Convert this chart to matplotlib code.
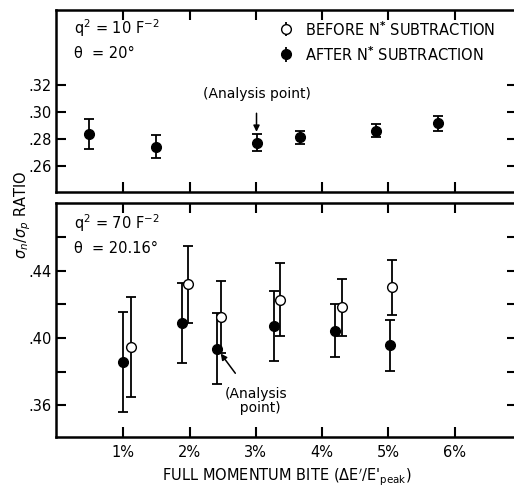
import matplotlib
matplotlib.use("Agg")
import matplotlib.pyplot as plt

plt.rcParams.update({
    "font.family": "DejaVu Sans",
    "font.size": 10,
    "mathtext.fontset": "dejavusans",
    "axes.linewidth": 1.8,
})

# ---------------------------------------------------------------------------
# Data
# ---------------------------------------------------------------------------
# top panel: q^2 = 10 F^-2, theta = 20 deg (after N* subtraction only)
x_top = [0.49, 1.49, 3.01, 3.67, 4.81, 5.75]
y_top = [0.2835, 0.2743, 0.2773, 0.2812, 0.2862, 0.2916]
e_top = [0.011, 0.0083, 0.0065, 0.005, 0.0048, 0.0054]

# bottom panel: q^2 = 70 F^-2, theta = 20.16 deg
x_after = [1.00, 1.88, 2.41, 3.27, 4.20, 5.03]
y_after = [0.3857, 0.4088, 0.3937, 0.4072, 0.4044, 0.3956]
e_after = [0.030, 0.024, 0.021, 0.021, 0.016, 0.015]

x_before = [1.12, 1.97, 2.47, 3.36, 4.30, 5.06]
y_before = [0.3946, 0.4319, 0.4124, 0.4229, 0.4183, 0.4303]
e_before = [0.030, 0.023, 0.0215, 0.0216, 0.017, 0.0164]

x_ticks = [1, 2, 3, 4, 5, 6]
x_ticklabels = ["1%", "2%", "3%", "4%", "5%", "6%"]
y_ticks_top = [0.26, 0.28, 0.30, 0.32]
y_ticks_bot = [0.36, 0.38, 0.40, 0.42, 0.44, 0.46]
y_ticklabels_bot = [".36", "", ".40", "", ".44", ""]

W, H = 514, 487
fig = plt.figure(figsize=(W / 100, H / 100), dpi=100)


def ax_rect(x0, y0, x1, y1):
    return [x0 / W, 1 - y1 / H, (x1 - x0) / W, (y1 - y0) / H]


ax1 = fig.add_axes(ax_rect(56, 10, 517, 192))
ax2 = fig.add_axes(ax_rect(56, 203, 517, 437))

err_kw = dict(fmt="o", color="black", ms=7, elinewidth=1.3, capsize=3.5,
              capthick=1.3)

for ax in (ax1, ax2):
    ax.set_xlim(-0.015, 6.94)
    ax.set_xticks(x_ticks)
    ax.tick_params(axis="both", direction="in", length=7, width=1.5,
                   top=True, right=True, labelsize=10.5)
    ax.tick_params(axis="y", pad=3)

# --- top panel ---
ax1.errorbar(x_top, y_top, yerr=e_top, mfc="black", **err_kw)
ax1.set_ylim(0.2407, 0.3756)
ax1.set_yticks(y_ticks_top)
ax1.set_yticklabels([".26", ".28", ".30", ".32"])
ax1.set_xticklabels([])
ax1.text(0.04, 0.90, r"q$^2$ = 10 F$^{-2}$", transform=ax1.transAxes,
         fontsize=10.5, va="center")
ax1.text(0.04, 0.76, "θ  = 20°", transform=ax1.transAxes,
         fontsize=10.5, va="center")
ax1.annotate("(Analysis point)", xy=(x_top[2], y_top[2] + e_top[2] + 0.0015),
             xytext=(x_top[2], 0.3135), ha="center", va="center", fontsize=10,
             arrowprops=dict(arrowstyle="-|>", color="black", lw=1.1,
                             mutation_scale=9, shrinkA=7, shrinkB=0))

# legend
h_before = ax1.errorbar([], [], yerr=[], mfc="white", **err_kw)
h_after = ax1.errorbar([], [], yerr=[], mfc="black", **err_kw)
ax1.legend([h_before, h_after],
           [r"BEFORE N$^{\mathbf{*}}$ SUBTRACTION", r"AFTER N$^{\mathbf{*}}$ SUBTRACTION"],
           loc="upper right", bbox_to_anchor=(0.975, 1.0), frameon=False,
           fontsize=10.5, handlelength=0.8, handleheight=1.6, handletextpad=0.9,
           labelspacing=0.35, borderaxespad=0.3)

# --- bottom panel ---
ax2.errorbar(x_after, y_after, yerr=e_after, mfc="black", **err_kw)
ax2.errorbar(x_before, y_before, yerr=e_before, mfc="white", zorder=3, **err_kw)
ax2.set_ylim(0.341, 0.4804)
ax2.set_yticks(y_ticks_bot)
ax2.set_yticklabels(y_ticklabels_bot)
ax2.set_xticklabels(x_ticklabels)
ax2.tick_params(axis="x", pad=6)
ax2.text(0.04, 0.915, r"q$^2$ = 70 F$^{-2}$", transform=ax2.transAxes,
         fontsize=10.5, va="center")
ax2.text(0.04, 0.805, "θ  = 20.16°", transform=ax2.transAxes,
         fontsize=10.5, va="center")
ax2.annotate("(Analysis\n  point)", xy=(x_after[2] + 0.06, y_after[2] - 0.003),
             xytext=(3.0, 0.3625), ha="center", va="center", fontsize=10,
             linespacing=0.95,
             arrowprops=dict(arrowstyle="-|>", color="black", lw=1.1,
                             mutation_scale=9, shrinkA=10, shrinkB=0))

ax2.set_xlabel(r"FULL MOMENTUM BITE ($\Delta$E$'$/E$'_{\mathrm{peak}}$)",
               fontsize=10.5, labelpad=5)
fig.text(23 / W, 1 - 215 / H, r"$\sigma_n/\sigma_p$ RATIO", rotation=90,
         ha="center", va="center", fontsize=10.5)

fig.savefig("out.png", dpi=100)
